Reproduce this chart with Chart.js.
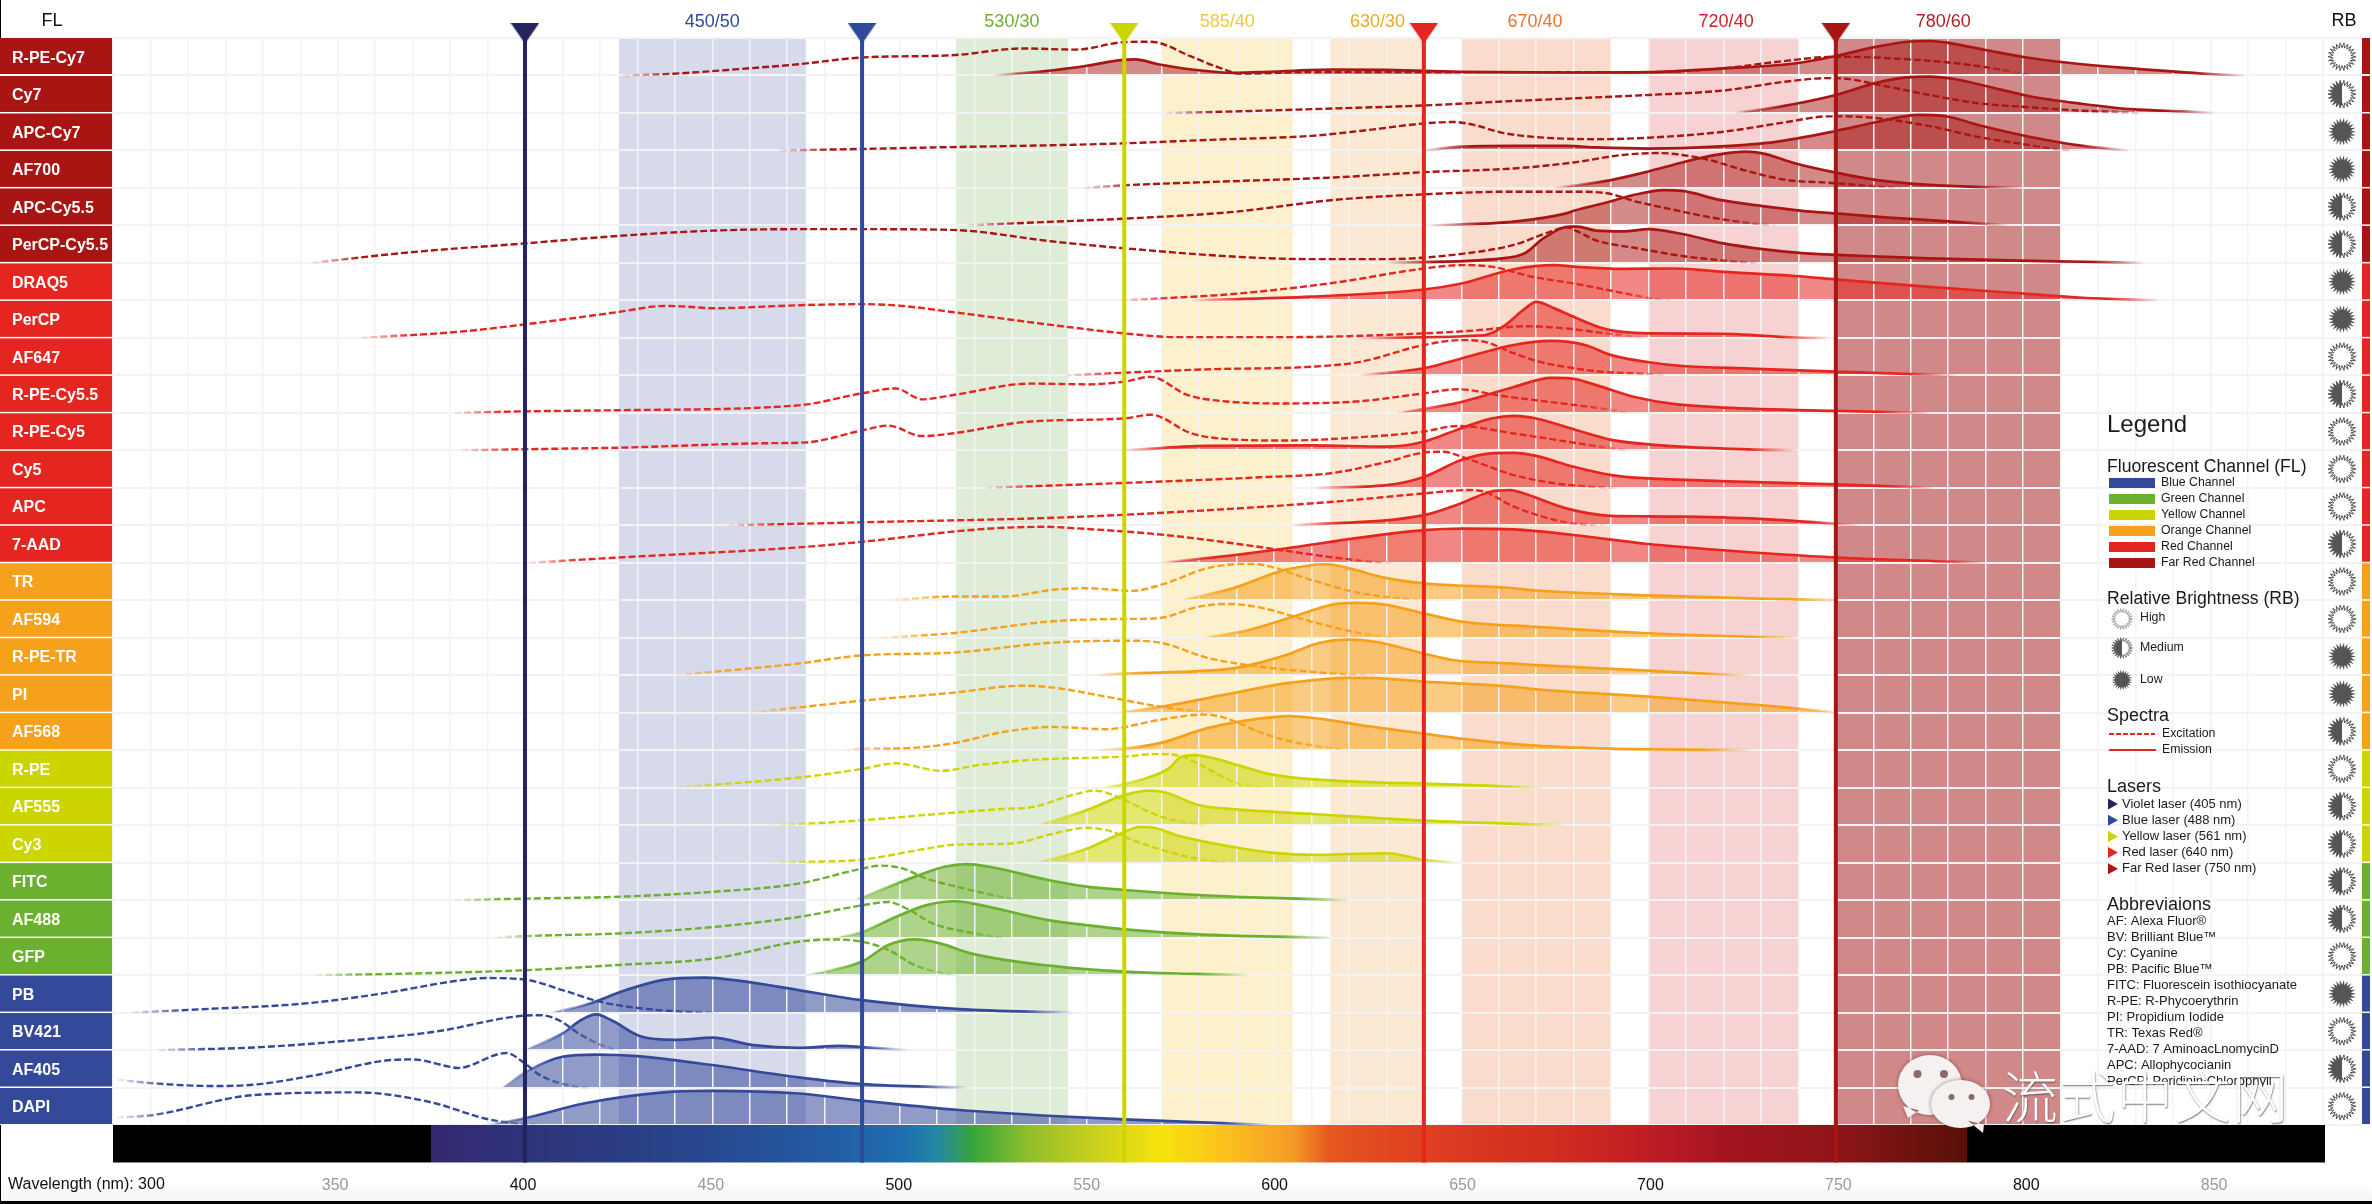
<!DOCTYPE html>
<html><head><meta charset="utf-8">
<style>html,body{margin:0;padding:0;background:#fff}canvas{display:block}</style>
<script src="https://cdn.jsdelivr.net/npm/chart.js@4"></script>
</head><body><canvas id="c" width="2372" height="1204"></canvas>
<script>
// ---------- categories ----------
const fluorophores=['R-PE-Cy7','Cy7','APC-Cy7','AF700','APC-Cy5.5','PerCP-Cy5.5','DRAQ5','PerCP','AF647','R-PE-Cy5.5','R-PE-Cy5','Cy5','APC','7-AAD','TR','AF594','R-PE-TR','PI','AF568','R-PE','AF555','Cy3','FITC','AF488','GFP','PB','BV421','AF405','DAPI'];
const channels=['farRed','farRed','farRed','farRed','farRed','farRed','red','red','red','red','red','red','red','red','orange','orange','orange','orange','orange','yellow','yellow','yellow','green','green','green','blue','blue','blue','blue'];
const brightness=['H','M','L','L','M','M','L','L','H','M','H','H','H','M','H','H','L','L','M','H','M','M','M','M','H','L','H','M','H'];
// ---------- spectra: [wavelength nm, % of row height] ----------
const ex_RPECy7=[[426,0],[440,5],[457,17],[473,30],[490,48],[514,54],[533,72],[547,69],[560,89],[567,90],[578,50],[585,22],[591,5],[610,9],[650,9],[700,9],[720,19],[734,36],[750,50],[768,44],[786,28],[799,7],[803,0]];
const em_RPECy7=[[525,0],[541,14],[550,26],[559,41],[563,43],[569,30],[578,16],[589,7],[596,9],[616,16],[630,15],[650,10],[680,8],[700,9],[720,19],[739,32],[750,52],[760,75],[769,90],[775,92],[780,87],[790,68],[801,48],[810,36],[829,19],[850,4],[859,0]];
const ex_Cy7=[[571,0],[589,4],[616,12],[640,20],[664,32],[680,39],[700,48],[720,60],[737,84],[748,93],[753,91],[761,76],[775,48],[788,26],[802,15],[816,6],[823,4],[832,0]];
const em_Cy7=[[723,0],[734,15],[750,48],[761,81],[769,95],[775,97],[782,90],[790,72],[802,44],[816,24],[829,10],[843,4],[851,0]];
const ex_APCCy7=[[468,0],[490,4],[514,9],[541,14],[560,19],[582,28],[610,39],[623,52],[640,72],[648,76],[653,69],[661,47],[671,35],[686,30],[700,34],[720,50],[737,76],[748,91],[759,88],[775,65],[788,36],[802,14],[810,2],[814,0]];
const em_APCCy7=[[640,0],[650,10],[664,12],[678,12],[686,8],[700,5],[718,10],[734,23],[750,52],[761,76],[772,95],[779,92],[788,68],[802,36],[816,12],[828,0]];
const ex_AF700=[[549,0],[560,7],[589,18],[616,28],[640,42],[664,52],[680,68],[693,88],[703,93],[709,88],[716,75],[726,46],[737,21],[748,14],[760,5],[768,0]];
const em_AF700=[[675,0],[680,6],[690,21],[700,44],[709,68],[718,88],[726,97],[731,91],[739,66],[750,41],[761,21],[775,8],[791,2],[800,0]];
const ex_APCCy55=[[518,0],[541,10],[560,18],[589,36],[616,68],[640,83],[664,90],[680,90],[688,87],[697,63],[707,41],[718,19],[729,4],[734,0]];
const em_APCCy55=[[642,0],[664,10],[678,32],[680,39],[688,59],[696,81],[704,94],[709,92],[719,68],[730,52],[741,39],[750,32],[764,21],[775,14],[790,4],[796,0]];
const ex_PerCPCy55=[[343,0],[369,28],[400,52],[425,72],[450,86],[473,90],[490,90],[514,88],[541,57],[560,39],[589,17],[610,10],[630,10],[650,24],[664,48],[674,84],[678,95],[681,84],[686,60],[697,39],[710,17],[723,4],[730,0]];
const em_PerCPCy55=[[630,0],[661,12],[667,26],[672,66],[679,97],[681,97],[686,86],[693,84],[700,90],[709,77],[720,52],[731,36],[741,26],[756,19],[775,12],[799,6],[816,3],[832,0]];
const ex_DRAQ5=[[559,0],[589,17],[616,47],[640,85],[650,94],[658,90],[669,63],[680,45],[693,20],[701,5],[706,0]];
const em_DRAQ5=[[578,0],[610,10],[640,29],[650,45],[664,83],[675,94],[680,90],[693,84],[707,85],[720,76],[739,65],[750,56],[775,36],[799,19],[816,7],[833,1],[836,0]];
const ex_PerCP=[[356,0],[382,16],[400,36],[425,69],[437,85],[442,84],[450,79],[473,87],[490,90],[501,85],[514,69],[541,34],[560,12],[574,2],[604,2],[640,12],[654,20],[667,31],[678,25],[687,14],[699,0]];
const em_PerCP=[[622,0],[656,7],[661,29],[667,78],[670,96],[675,78],[680,56],[688,25],[693,16],[700,12],[720,11],[730,6],[739,1],[748,0]];
const ex_AF647=[[544,0],[560,7],[582,16],[610,23],[623,36],[640,81],[650,94],[656,90],[664,59],[671,36],[680,19],[687,10],[700,4],[705,0]];
const em_AF647=[[623,0],[640,19],[650,45],[664,81],[674,92],[683,81],[690,54],[700,35],[709,25],[727,18],[750,10],[775,2],[782,0]];
const ex_RPECy55=[[381,0],[400,4],[425,7],[473,20],[490,52],[499,65],[506,36],[514,47],[535,78],[550,76],[560,83],[567,96],[577,47],[589,29],[603,25],[623,31],[640,52],[649,63],[661,45],[687,12],[695,0]];
const em_RPECy55=[[633,0],[650,29],[664,69],[674,93],[679,92],[686,74],[696,43],[707,23],[720,14],[750,5],[775,0]];
const ex_RPECy5=[[383,0],[400,3],[425,7],[465,19],[475,21],[490,53],[497,66],[506,38],[514,45],[535,77],[560,85],[567,95],[578,45],[589,29],[603,26],[623,35],[640,50],[649,65],[664,45],[687,10],[695,0]];
const em_RPECy5=[[560,0],[582,12],[610,13],[630,10],[640,23],[650,59],[658,85],[664,92],[670,85],[680,56],[690,28],[700,16],[719,5],[732,1],[740,0]];
const ex_Cy5=[[523,0],[560,13],[596,28],[616,40],[630,69],[640,94],[645,96],[652,76],[664,34],[675,12],[687,2],[692,0]];
const em_Cy5=[[611,0],[630,7],[640,29],[650,74],[658,92],[664,93],[670,85],[680,56],[690,34],[700,25],[719,18],[750,9],[776,0]];
const ex_APC=[[454,0],[473,4],[490,8],[541,20],[575,36],[616,63],[640,85],[652,94],[656,90],[664,50],[675,14],[683,2],[688,0]];
const em_APC=[[605,0],[640,27],[650,59],[658,90],[663,94],[667,84],[678,45],[690,25],[700,24],[710,23],[732,16],[750,4],[756,0]];
const ex_7AAD=[[401,0],[425,14],[473,41],[490,56],[521,89],[539,96],[547,92],[569,76],[589,52],[603,32],[616,14],[627,2],[632,0]];
const em_7AAD=[[570,0],[589,20],[603,38],[623,67],[640,87],[650,91],[664,89],[680,74],[700,50],[719,34],[750,14],[781,3],[790,0]];
const ex_TR=[[498,0],[514,10],[528,10],[541,28],[550,32],[562,25],[571,45],[582,85],[592,97],[597,94],[610,54],[623,19],[637,3],[642,0]];
const em_TR=[[575,0],[589,32],[603,81],[614,96],[620,85],[630,59],[640,45],[664,32],[670,26],[700,13],[732,4],[746,1],[752,0]];
const ex_AF594=[[495,0],[514,12],[541,44],[560,50],[569,52],[580,83],[588,90],[596,81],[610,43],[623,12],[630,3],[634,0]];
const em_AF594=[[581,0],[593,20],[605,56],[616,89],[622,93],[629,89],[640,65],[650,43],[670,29],[700,12],[735,1],[740,0]];
const ex_RPETR=[[440,0],[473,31],[490,53],[514,60],[541,87],[562,92],[570,86],[582,47],[593,27],[610,9],[623,1],[628,0]];
const em_RPETR=[[552,0],[560,4],[589,18],[596,33],[603,53],[612,86],[620,95],[627,89],[640,58],[648,40],[664,31],[670,27],[700,12],[722,1],[728,0]];
const ex_PI=[[460,0],[473,14],[490,32],[514,53],[533,72],[541,67],[555,43],[571,14],[582,2],[586,0]];
const em_PI=[[558,0],[570,16],[589,52],[603,78],[620,93],[627,92],[640,83],[664,69],[670,62],[700,43],[732,18],[751,0]];
const ex_AF568=[[485,0],[490,4],[501,5],[514,18],[528,49],[541,62],[555,56],[569,80],[581,95],[586,89],[596,49],[603,27],[616,4],[620,0]];
const em_AF568=[[553,0],[560,4],[570,20],[582,58],[596,84],[604,91],[612,84],[623,67],[640,44],[650,31],[670,12],[690,4],[719,1],[728,0]];
const ex_RPE=[[440,0],[475,29],[490,50],[499,65],[511,45],[521,60],[535,74],[560,83],[569,90],[575,84],[582,52],[589,16],[595,3],[598,0]];
const em_RPE=[[554,0],[560,10],[567,29],[572,52],[575,81],[579,87],[584,78],[591,58],[600,34],[611,22],[630,13],[640,11],[660,4],[668,1],[672,0]];
const ex_AF555=[[465,0],[473,3],[490,13],[514,33],[527,43],[536,49],[546,80],[552,92],[556,84],[560,67],[570,22],[580,2],[584,0]];
const em_AF555=[[537,0],[550,40],[560,80],[567,92],[571,87],[580,53],[590,42],[611,29],[640,12],[670,2],[678,0]];
const ex_Cy3=[[465,0],[473,2],[490,8],[507,37],[515,48],[530,51],[541,77],[550,93],[557,82],[560,69],[569,37],[579,11],[586,2],[590,0]];
const em_Cy3=[[537,0],[550,37],[560,82],[564,95],[568,93],[574,73],[584,51],[600,26],[611,21],[630,25],[640,8],[649,0]];
const ex_FITC=[[381,0],[400,4],[425,9],[450,22],[473,44],[490,84],[495,92],[501,84],[507,58],[516,34],[530,4],[534,0]];
const em_FITC=[[488,0],[495,27],[504,62],[512,89],[518,96],[524,89],[540,53],[550,36],[560,27],[581,13],[599,6],[620,0]];
const ex_AF488=[[392,0],[400,4],[425,11],[450,28],[473,55],[490,86],[497,95],[502,77],[509,37],[518,15],[526,2],[530,0]];
const em_AF488=[[483,0],[490,15],[499,55],[507,86],[515,97],[521,88],[540,46],[550,33],[560,22],[581,8],[615,0]];
const ex_GFP=[[344,0],[369,4],[400,13],[425,27],[450,44],[473,89],[482,95],[490,89],[497,67],[504,27],[513,3],[516,0]];
const em_GFP=[[475,0],[482,13],[490,36],[497,80],[504,95],[511,84],[519,58],[540,25],[560,9],[579,3],[593,0]];
const ex_PB=[[295,0],[314,9],[341,24],[362,51],[382,85],[390,92],[400,88],[410,60],[420,29],[434,8],[448,1],[452,0]];
const em_PB=[[407,0],[416,20],[427,60],[437,87],[448,93],[457,85],[473,60],[490,33],[516,9],[541,1],[546,0]];
const ex_BV421=[[302,0],[328,7],[355,27],[376,49],[400,92],[404,93],[409,80],[415,40],[423,4],[426,0]];
const em_BV421=[[400,0],[410,44],[415,80],[419,95],[423,80],[431,36],[440,27],[450,33],[461,13],[473,6],[484,11],[490,8],[502,0]];
const ex_AF405=[[291,21],[301,11],[317,4],[328,8],[344,33],[362,71],[370,75],[380,55],[382,52],[395,92],[400,64],[404,33],[414,2],[418,0]];
const em_AF405=[[394,0],[401,46],[410,82],[419,88],[430,84],[450,60],[473,27],[490,9],[513,1],[518,0]];
const ex_DAPI=[[291,20],[301,27],[324,76],[335,84],[355,87],[362,83],[376,58],[389,18],[396,6],[404,0]];
const em_DAPI=[[390,0],[400,18],[416,58],[437,87],[450,91],[473,84],[490,65],[516,40],[541,24],[560,15],[599,0]];
const excitation=[ex_RPECy7,ex_Cy7,ex_APCCy7,ex_AF700,ex_APCCy55,ex_PerCPCy55,ex_DRAQ5,ex_PerCP,ex_AF647,ex_RPECy55,ex_RPECy5,ex_Cy5,ex_APC,ex_7AAD,ex_TR,ex_AF594,ex_RPETR,ex_PI,ex_AF568,ex_RPE,ex_AF555,ex_Cy3,ex_FITC,ex_AF488,ex_GFP,ex_PB,ex_BV421,ex_AF405,ex_DAPI];
const emission=[em_RPECy7,em_Cy7,em_APCCy7,em_AF700,em_APCCy55,em_PerCPCy55,em_DRAQ5,em_PerCP,em_AF647,em_RPECy55,em_RPECy5,em_Cy5,em_APC,em_7AAD,em_TR,em_AF594,em_RPETR,em_PI,em_AF568,em_RPE,em_AF555,em_Cy3,em_FITC,em_AF488,em_GFP,em_PB,em_BV421,em_AF405,em_DAPI];
// ---------- filters & lasers ----------
const filterNames=['450/50','530/30','585/40','630/30','670/40','720/40','780/60'];
const filterLabelAt=[450,530,587.5,627.6,669.7,720.7,778.7];
const filterFrom=[425,515,570,615,650,700,750];
const filterTo=[475,545,605,640,690,740,810];
const laserAt=[400,490,560,640,750];
// ---------- legend text ----------
const legendChannels=['Blue Channel','Green Channel','Yellow Channel','Orange Channel','Red Channel','Far Red Channel'];
const legendLasers=['Violet laser (405 nm)','Blue laser (488 nm)','Yellow laser (561 nm)','Red laser (640 nm)','Far Red laser (750 nm)'];
const legendAbbr=['AF: Alexa Fluor®','BV: Brilliant Blue™','Cy: Cyanine','PB: Pacific Blue™','FITC: Fluorescein isothiocyanate','R-PE: R-Phycoerythrin','PI: Propidium Iodide','TR: Texas Red®','7-AAD: 7 AminoacLnomycinD','APC: Allophycocianin','PerCP: Peridinin Chlorophyll'];
// ---------- styles ----------
const FONT='"Liberation Sans", Arial, sans-serif';
const chanColor={blue:'#35499a',green:'#6bb02e',yellow:'#ccd500',orange:'#f6a11c',red:'#e52620',farRed:'#a81513'};
const chanRGB={blue:'53,73,154',green:'107,176,46',yellow:'204,213,0',orange:'246,161,28',red:'229,38,32',farRed:'168,21,19'};
const filterColor=['#d6daeb','#dfecd8','#fdf0cd','#fce9d3','#f9dccc','#f6d2d2','#d18888'];
const filterText=['#34499a','#6cb12e','#efca3a','#eda928','#e9742b','#cf2027','#b51f24'];
const laserColor=['#25245f','#2f4a9b','#ccd500','#e52620','#a81513'];
const legendOrder=['blue','green','yellow','orange','red','farRed'];
const spectrumStops=[[375,'#33286f'],[450,'#27488f'],[475,'#2558a0'],[500,'#1f6cb0'],[510,'#2287a3'],[520,'#3aa63a'],[535,'#93bf2b'],[550,'#c3ce1f'],[570,'#f7e30c'],[590,'#fbbb20'],[605,'#f59a27'],[615,'#e5561f'],[640,'#de3f20'],[680,'#cf2a20'],[700,'#bd1d25'],[720,'#a61420'],[750,'#8e1518'],[785,'#571009']];

function triangle(color){const cv=document.createElement('canvas');cv.width=29;cv.height=21;const g=cv.getContext('2d');g.fillStyle=color;g.beginPath();g.moveTo(0,0);g.lineTo(29,0);g.lineTo(14.5,21);g.closePath();g.fill();return cv;}
function starPath(g,cx,cy,r,n){g.beginPath();for(let i=0;i<n*2;i++){const a=i*Math.PI/n,rr=i%2?r*0.64:r;g.lineTo(cx+rr*Math.cos(a),cy+rr*Math.sin(a));}g.closePath();}
function drawStar(g,cx,cy,r,kind){const n=22;g.save();g.lineJoin='miter';g.miterLimit=10;g.strokeStyle='#555';g.fillStyle='#555';
  if(kind==='L'){starPath(g,cx,cy,r,n);g.fill();}
  else{starPath(g,cx,cy,r,n);g.fillStyle='#fff';g.fill();g.lineWidth=r>12?1:0.7;g.strokeStyle=kind==='H'&&r<12?'#888':'#555';g.stroke();
    if(kind==='M'){g.save();g.beginPath();g.rect(cx-r-2,cy-r-2,r+2,2*r+4);g.clip();starPath(g,cx,cy,r,n);g.fillStyle='#555';g.fill();g.restore();}}
  g.restore();}

const rowBase=i=>fluorophores.length-1-i;
const datasets=[];
// a curve's stroke fades in and out over its faint tails
function fadedStroke(ctx,pts,rgb,solid){const ch=ctx.chart,sx=ch.scales.x;if(!ch.chartArea||!sx||!isFinite(sx.getPixelForValue(400)))return solid;
  const a=sx.getPixelForValue(pts[0][0]),b=sx.getPixelForValue(pts[pts.length-1][0]),w=b-a;if(!(w>0))return solid;
  const gr=ch.ctx.createLinearGradient(a,0,b,0),f=Math.min(0.45,50/w);
  gr.addColorStop(0,`rgba(${rgb},0.05)`);gr.addColorStop(f,`rgba(${rgb},1)`);gr.addColorStop(1-f,`rgba(${rgb},1)`);gr.addColorStop(1,`rgba(${rgb},0.05)`);return gr;}
function addCurve(i,pts,isEm){const ch=channels[i],c=chanRGB[ch];
  datasets.push({label:fluorophores[i]+(isEm?' emission':' excitation'),deferred:isEm?1:2,
    data:pts.map(p=>({x:p[0],y:rowBase(i)+p[1]/100})),
    borderColor:ctx=>fadedStroke(ctx,pts,c,chanColor[ch]),borderWidth:isEm?2.7:2.4,borderDash:isEm?[]:[7,3],
    backgroundColor:isEm?`rgba(${c},${ch==='farRed'?0.5:0.55})`:'transparent',
    fill:isEm?{value:rowBase(i)}:false,pointRadius:0,cubicInterpolationMode:'monotone',order:isEm?50:40});}
fluorophores.forEach((f,i)=>{addCurve(i,excitation[i],false);addCurve(i,emission[i],true);});
filterNames.forEach((n,i)=>datasets.push({label:'Filter '+n,data:[{x:filterFrom[i],y:fluorophores.length},{x:filterTo[i],y:fluorophores.length}],
  backgroundColor:filterColor[i],borderWidth:0,fill:{value:0},pointRadius:0,order:100}));
laserAt.forEach((w,i)=>datasets.push({label:'Laser '+w,deferred:3,data:[{x:w,y:-1},{x:w,y:29.13}],borderColor:laserColor[i],borderWidth:4,fill:false,
  pointStyle:triangle(laserColor[i]),pointRadius:c=>c.dataIndex===1?15:0,pointBorderWidth:0,order:0}));

const T=(g,s,x,y,font,color,align)=>{g.font=font;g.fillStyle=color;g.textAlign=align||'left';g.textBaseline='middle';g.fillText(s,x,y);};
const plugin={id:'spectra',
 beforeDraw(c){const g=c.ctx,y=c.scales.y;g.save();g.fillStyle='#fff';g.fillRect(0,0,c.width,c.height);
   const gr=g.createLinearGradient(0,1180,0,1201);gr.addColorStop(0,'#ffffff');gr.addColorStop(1,'#f6f6f6');g.fillStyle=gr;g.fillRect(0,1180,c.width,21);
   fluorophores.forEach((f,i)=>{const t=y.getPixelForValue(rowBase(i)+1),b=y.getPixelForValue(rowBase(i));
     g.fillStyle=chanColor[channels[i]];g.fillRect(0,t+(i?0.5:0),113,b-t-1.5);g.fillRect(2362,t+(i?0.5:0),8,b-t-1.5);});
   g.restore();},
 beforeDatasetDraw(c,a){if(c.data.datasets[a.index].deferred)return false;},
 afterDraw(c){const g=c.ctx,x=c.scales.x,y=c.scales.y,L=c.chartArea.left,R=c.chartArea.right;
   g.save();
   g.strokeStyle='#f3f3f6';g.lineWidth=2;for(let k=0;k<=fluorophores.length;k++){const p=Math.round(y.getPixelForValue(k));g.beginPath();g.moveTo(R,p);g.lineTo(2362,p);g.stroke();}
   const top=y.getPixelForValue(0),h=y.getPixelForValue(-1)-top;
   const gr=g.createLinearGradient(L,0,R,0);const frac=w=>(x.getPixelForValue(w)-L)/(R-L);
   gr.addColorStop(0,'#000');gr.addColorStop(frac(375)-0.0001,'#000');
   spectrumStops.forEach(s=>gr.addColorStop(frac(s[0]),s[1]));
   gr.addColorStop(frac(785)+0.0001,'#000');gr.addColorStop(1,'#000');
   g.fillStyle=gr;g.fillRect(L,top,R-L,h);
   for(const lvl of [1,2,3]) c.data.datasets.forEach((d,i)=>{if(d.deferred===lvl)c.getDatasetMeta(i).controller.draw();});
   g.fillStyle='#000';g.fillRect(0,1201,c.width,3);g.fillRect(0,0,1,38);g.fillRect(0,1125,1,79);
   T(g,'FL',52,21,'18px '+FONT,'#111','center');T(g,'RB',2344,21,'18px '+FONT,'#111','center');
   T(g,'Wavelength (nm): 300',8,1185,'16px '+FONT,'#111');
   fluorophores.forEach((f,i)=>drawStar(g,2342,y.getPixelForValue(rowBase(i)+0.5),14,brightness[i]));
   const LX=2107,H='18px '+FONT,ink='#1a1a1a';
   T(g,'Legend',LX,425,'24px '+FONT,ink);
   T(g,'Fluorescent Channel (FL)',LX,467,'17.6px '+FONT,ink);
   legendChannels.forEach((s,i)=>{const yy=483+16*i;g.fillStyle=chanColor[legendOrder[i]];g.fillRect(2109,yy-5,46,10);T(g,s,2161,yy,'12.3px '+FONT,ink);});
   T(g,'Relative Brightness (RB)',LX,599,'17.6px '+FONT,ink);
   [['High',618,'H'],['Medium',648,'M'],['Low',680,'L']].forEach(r=>{drawStar(g,2122,r[1]+(r[2]==='H'?1:0),10.5,r[2]);T(g,r[0],2140,r[1],'12.3px '+FONT,ink);});
   T(g,'Spectra',LX,716,H,ink);
   g.strokeStyle=chanColor.red;g.lineWidth=1.8;g.setLineDash([5,2]);g.beginPath();g.moveTo(2109,734);g.lineTo(2155,734);g.stroke();g.setLineDash([]);
   g.beginPath();g.moveTo(2109,750);g.lineTo(2156,750);g.stroke();
   T(g,'Excitation',2162,734,'12.3px '+FONT,ink);T(g,'Emission',2162,750,'12.3px '+FONT,ink);
   T(g,'Lasers',LX,787,H,ink);
   legendLasers.forEach((s,i)=>{const yy=804+16.2*i;g.fillStyle=laserColor[i];g.beginPath();g.moveTo(2108,yy-5.5);g.lineTo(2118,yy);g.lineTo(2108,yy+5.5);g.closePath();g.fill();T(g,s,2122,yy,'13px '+FONT,ink);});
   T(g,'Abbreviaions',LX,905,H,ink);
   legendAbbr.forEach((s,i)=>T(g,s,LX,921+16*i,'13px '+FONT,ink));
   const bubble=(cx,cy,rx,ry,tx,ty,bx)=>{g.beginPath();g.ellipse(cx,cy,rx,ry,0,0,Math.PI*2);g.moveTo(bx,cy+ry*0.7);g.lineTo(tx,ty);g.lineTo(bx+16,cy+ry*0.85);g.closePath();g.fill();};
   g.save();g.shadowColor='rgba(70,30,30,0.55)';g.shadowBlur=4;g.fillStyle='#f5f1f1';
   bubble(1930,1085,32,30,1908,1118,1903);bubble(1960.5,1104,29.5,24,1983,1133,1968);g.restore();
   g.fillStyle='#8a6a68';[[1917.5,1074,4],[1944,1074,4],[1951.5,1097,3],[1971.5,1097,3]].forEach(e=>{g.beginPath();g.arc(e[0],e[1],e[2],0,Math.PI*2);g.fill();});
   g.save();g.shadowColor='rgba(60,60,60,0.75)';g.shadowBlur=1.5;g.shadowOffsetX=0.6;g.shadowOffsetY=0.6;
   [...'流式中文网'].forEach((ch,i)=>T(g,ch,2030+57.5*i,1097,'300 56px "Noto Sans CJK SC"','#ffffff','center'));
   g.restore();
   g.restore();}
};

const fixH=h=>s=>{s.height=h;};
new Chart(document.getElementById('c'),{type:'line',data:{datasets},plugins:[plugin],
 options:{responsive:false,animation:false,events:[],parsing:{xAxisKey:'x',yAxisKey:'y'},
  layout:{padding:{left:12,right:47,top:0,bottom:0}},
  plugins:{legend:{display:false},tooltip:{enabled:false},title:{display:false}},
  scales:{
   x:{type:'linear',position:'bottom',min:290,max:880.6,afterFit:fixH(0),border:{display:false},
      grid:{z:1,color:'#f3f3f6',lineWidth:1.5,drawTicks:false},
      ticks:{stepSize:10,includeBounds:false,autoSkip:false,maxRotation:0,display:false}},
   xTick:{type:'linear',position:'bottom',min:290.9,max:879.5,afterFit:fixH(79),border:{display:false},grid:{display:false,drawTicks:false},
      ticks:{stepSize:50,includeBounds:false,autoSkip:false,maxRotation:0,padding:51,
        font:{family:FONT,size:16},callback:v=>v===300?'':String(v),color:c=>c.tick.value%100===0?'#111':'#9a9a9a'}},
   xTop:{type:'linear',position:'top',min:290,max:880.6,afterFit:fixH(38),border:{display:false},grid:{display:false,drawTicks:false},
      afterBuildTicks:s=>{s.ticks=filterLabelAt.map(v=>({value:v}));},
      ticks:{autoSkip:false,maxRotation:0,padding:5.5,font:{family:FONT,size:18},callback:(v,i)=>filterNames[i],color:c=>filterText[c.index]}},
   y:{type:'linear',position:'left',min:0,max:fluorophores.length,afterFit:s=>{s.width=0;},border:{display:false},
      grid:{z:1,color:'#f3f3f6',lineWidth:2,drawTicks:false},ticks:{display:false,stepSize:1}},
   yName:{type:'category',position:'left',labels:fluorophores,offset:true,afterFit:s=>{s.width=101;},border:{display:false},grid:{display:false},
      ticks:{color:'#fff',crossAlign:'far',autoSkip:false,padding:0,labelOffset:1.5,font:{family:FONT,size:16,weight:'bold'}}}
  }}});
</script></body></html>
